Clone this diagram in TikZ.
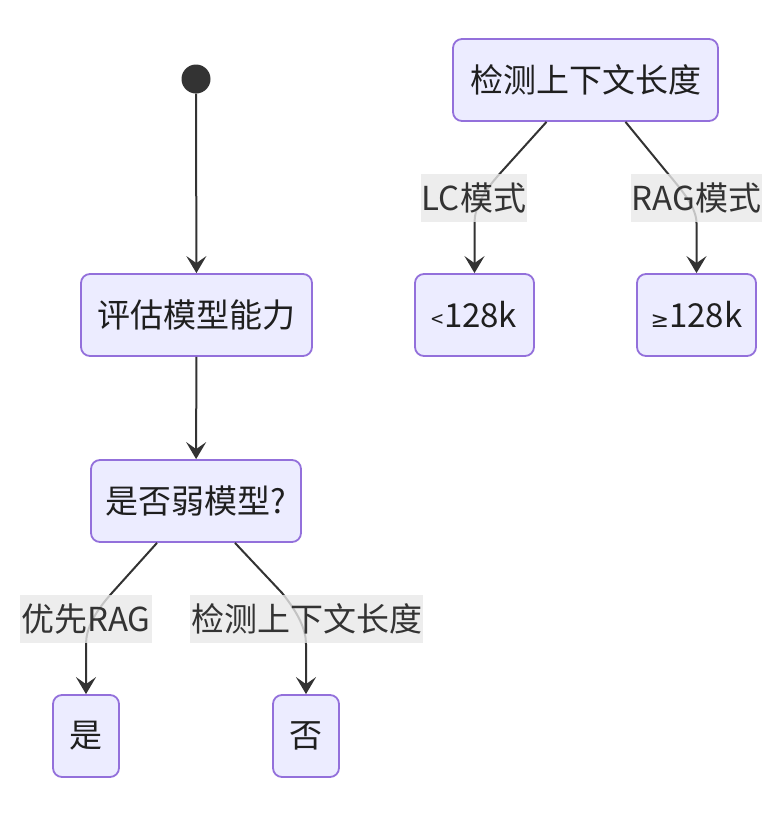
\documentclass[tikz,border=0pt]{standalone}
\usepackage{fontspec}
\setmainfont{Noto Sans CJK SC}
\newfontfamily\mathsym{DejaVu Sans}
\usetikzlibrary{arrows.meta,calc}
\definecolor{nodefill}{HTML}{ECECFF}
\definecolor{nodeline}{HTML}{9370DB}
\definecolor{ink}{HTML}{333333}
\definecolor{labelbg}{HTML}{E8E8E8}
\tikzset{
  state/.style={draw=nodeline, fill=nodefill, line width=1.8pt, rounded corners=9pt,
    minimum height=82pt, inner sep=0pt, text=black!88, font=\fontsize{33}{38}\selectfont},
  trans/.style={draw=ink, line width=2pt, -{Stealth[length=17pt,width=20pt,inset=7pt]}},
  edgelabel/.style={fill=labelbg, fill opacity=0.8, text opacity=1, text=ink,
    inner xsep=1pt, inner ysep=0pt, minimum height=48pt, font=\fontsize{33}{38}\selectfont},
  initial/.style={circle, fill=ink, minimum size=29pt, inner sep=0pt}
}
\begin{document}
\begin{tikzpicture}[x=1pt,y=-1pt]
\useasboundingbox (0,0) rectangle (784,823);

% states
\node[initial] (start) at (196,79) {};
\node[state, minimum width=231pt] (eval) at (196.5,315) {评估模型能力};
\node[state, minimum width=210pt] (weak) at (196,501) {是否弱模型?};
\node[state, minimum width=66pt] (yes) at (86,736) {是};
\node[state, minimum width=66pt] (no) at (306,736) {否};
\node[state, minimum width=265pt] (ctx) at (585.5,80) {检测上下文长度};
\node[state, minimum width=119pt] (small) at (474.5,315) {{\fontsize{22}{26}\selectfont <}128k};
\node[state, minimum width=119pt] (large) at (696.5,315) {{\mathsym\fontsize{22}{26}\selectfont ≥}128k};

% transitions
\draw[trans] (start) -- (eval);
\draw[trans] (eval) -- (weak);
\draw[trans] ($(weak.south)+(-39,0)$) -- ++(-45,50)
  .. controls ++(-18,20) and ++(0,-15) .. ($(yes.north)+(0,-50)$) -- (yes.north);
\draw[trans] ($(weak.south)+(39,0)$) -- ++(47,50)
  .. controls ++(16,20) and ++(0,-15) .. ($(no.north)+(0,-50)$) -- (no.north);
\draw[trans] ($(ctx.south)+(-39,0)$) -- ++(-46,51)
  .. controls ++(-18,20) and ++(0,-15) .. ($(small.north)+(0,-50)$) -- (small.north);
\draw[trans] ($(ctx.south)+(40,0)$) -- ++(41,50)
  .. controls ++(17,20) and ++(0,-15) .. ($(large.north)+(0,-50)$) -- (large.north);

% transition labels
\node[edgelabel] (lyes) at (86,619) {优先RAG};
\node[edgelabel] (lno) at (306.5,619) {检测上下文长度};
\node[edgelabel] (lsmall) at (474,198) {LC模式};
\node[edgelabel] (llarge) at (696.5,198) {RAG模式};
\end{tikzpicture}
\end{document}
